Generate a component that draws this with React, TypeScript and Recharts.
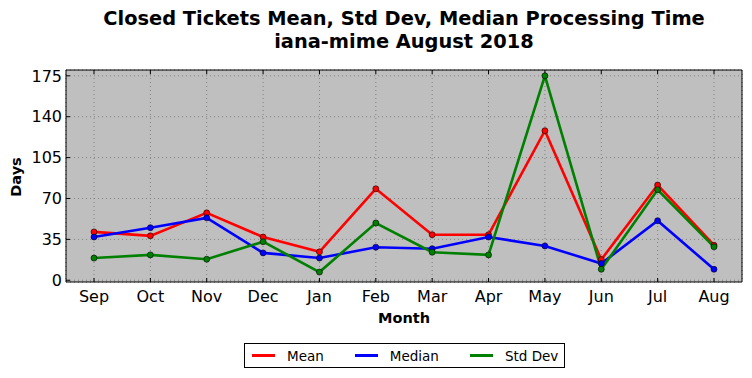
import React from 'react';
import {
    LineChart,
    Line,
    XAxis,
    YAxis,
    CartesianGrid,
} from 'recharts';

const months = ['Sep', 'Oct', 'Nov', 'Dec', 'Jan', 'Feb', 'Mar', 'Apr', 'May', 'Jun', 'Jul', 'Aug'];
const meanDays = [41.4, 38, 57.7, 37, 24.3, 78.3, 39, 39, 128, 17.7, 81.5, 30];
const medianDays = [37, 45, 53.4, 23.4, 19, 28.3, 27, 37, 29.4, 14.3, 51, 9.4];
const stdDevDays = [19, 21.7, 18, 33, 7, 49, 24, 21.7, 175, 9.4, 77.5, 28.6];
const yTicks = [0, 35, 70, 105, 140, 175];

const series = [
    { key: 'mean', name: 'Mean', color: '#ff0000' },
    { key: 'median', name: 'Median', color: '#0000ff' },
    { key: 'std', name: 'Std Dev', color: '#008000' },
];

const data = months.map((month, i) => ({
    month,
    mean: meanDays[i],
    median: medianDays[i],
    std: stdDevDays[i],
}));

const font = 'DejaVu Sans, sans-serif';
const tickStyle = { fontSize: 16, fill: '#000', fontFamily: font };
const xPad = { left: 28, right: 28 };

const App: React.FC = () => {
    return (
        <div
            style={{
                position: 'absolute',
                left: 0,
                top: 0,
                width: 752,
                height: 378,
                background: '#fff',
                fontFamily: font,
                color: '#000',
            }}
        >
            <div
                style={{
                    position: 'absolute',
                    left: 66,
                    width: 676,
                    top: 7,
                    textAlign: 'center',
                    fontWeight: 'bold',
                    fontSize: 19.4,
                    lineHeight: '23px',
                }}
            >
                Closed Tickets Mean, Std Dev, Median Processing Time
                <br />
                iana-mime August 2018
            </div>
            <LineChart
                width={752}
                height={378}
                data={data}
                margin={{ top: 69, right: 9, left: 26, bottom: 66 }}
            >
                <CartesianGrid
                    xAxisId="bottom"
                    yAxisId="left"
                    fill="#bfbfbf"
                    stroke="#808080"
                    strokeDasharray="1 3"
                />
                <XAxis
                    xAxisId="bottom"
                    dataKey="month"
                    height={30}
                    padding={xPad}
                    stroke="#000"
                    tick={tickStyle}
                    tickSize={-4}
                    tickMargin={13}
                    interval={0}
                />
                <XAxis
                    xAxisId="top"
                    orientation="top"
                    dataKey="month"
                    height={1}
                    padding={xPad}
                    stroke="#000"
                    tickSize={-4}
                    tickFormatter={() => ''}
                    interval={0}
                />
                <YAxis
                    yAxisId="left"
                    width={40}
                    domain={[-1.5, 180]}
                    ticks={yTicks}
                    stroke="#000"
                    tick={tickStyle}
                    tickSize={-4}
                    tickMargin={8}
                />
                <YAxis
                    yAxisId="right"
                    orientation="right"
                    width={1}
                    domain={[-1.5, 180]}
                    ticks={yTicks}
                    stroke="#000"
                    tickSize={-4}
                    tickFormatter={() => ''}
                />
                {series.map((s) => (
                    <Line
                        key={s.key}
                        xAxisId="bottom"
                        yAxisId="left"
                        type="linear"
                        dataKey={s.key}
                        name={s.name}
                        stroke={s.color}
                        strokeWidth={2.6}
                        dot={{ r: 3, fill: s.color, stroke: '#000', strokeWidth: 0.6 }}
                        isAnimationActive={false}
                    />
                ))}
            </LineChart>
            <div
                style={{
                    position: 'absolute',
                    left: 66,
                    top: 310,
                    width: 676,
                    textAlign: 'center',
                    fontWeight: 'bold',
                    fontSize: 14.5,
                }}
            >
                Month
            </div>
            <div
                style={{
                    position: 'absolute',
                    left: 16,
                    top: 177,
                    transform: 'translate(-50%, -50%) rotate(-90deg)',
                    fontWeight: 'bold',
                    fontSize: 14.5,
                }}
            >
                Days
            </div>
            <div
                style={{
                    position: 'absolute',
                    left: 244,
                    top: 343,
                    width: 319,
                    height: 23,
                    border: '1px solid #000',
                    display: 'flex',
                    alignItems: 'center',
                    fontSize: 13.5,
                    background: '#fff',
                    whiteSpace: 'nowrap',
                }}
            >
                {series.map((s, i) => (
                    <div
                        key={s.key}
                        style={{
                            display: 'flex',
                            alignItems: 'center',
                            marginLeft: i === 0 ? 7 : 31,
                        }}
                    >
                        <span
                            style={{
                                display: 'inline-block',
                                width: 23,
                                height: 2.5,
                                background: s.color,
                                marginRight: 12,
                            }}
                        />
                        <span>{s.name}</span>
                    </div>
                ))}
            </div>
        </div>
    );
};

export default App;
